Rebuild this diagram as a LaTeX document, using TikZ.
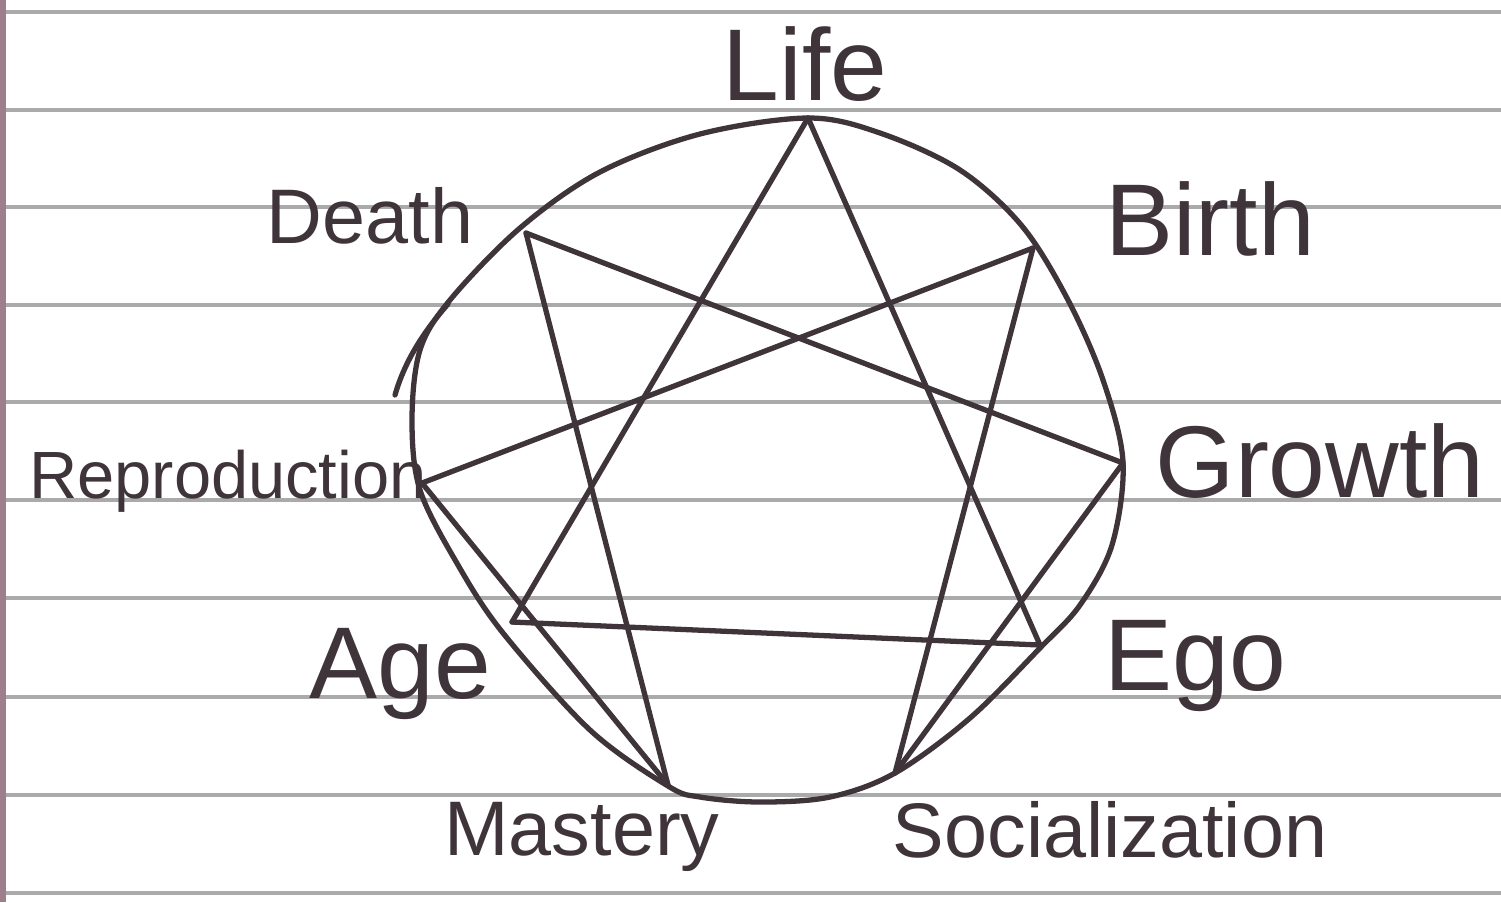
\documentclass[tikz,border=0pt]{standalone}
\usepackage{fontspec}
\setmainfont{Liberation Sans}
\definecolor{inkcolor}{RGB}{62,52,58}
\definecolor{rulecolor}{RGB}{170,170,170}
\definecolor{margincolor}{RGB}{158,126,138}

\begin{document}
\begin{tikzpicture}[x=0.01cm, y=-0.01cm,
    ink/.style={draw=inkcolor, line width=1.5pt, line cap=round, line join=round},
    rule/.style={draw=rulecolor, line width=1.1pt},
    tag/.style={text=inkcolor, anchor=base, inner sep=0pt, font=\fontsize{22}{24}\selectfont},
    bigtag/.style={tag, font=\fontsize{29}{31}\selectfont}]
\useasboundingbox[fill=white] (0,0) rectangle (1501,902);
    \begin{scope}
% ruled paper
\draw[rule] (6,12) -- (1501,12);
\draw[rule] (6,110) -- (1501,110);
\draw[rule] (6,207) -- (1501,207);
\draw[rule] (6,305) -- (1501,305);
\draw[rule] (6,402) -- (1501,402);
\draw[rule] (6,500) -- (1501,500);
\draw[rule] (6,598) -- (1501,598);
\draw[rule] (6,697) -- (1501,697);
\draw[rule] (6,795) -- (1501,795);
\draw[rule] (6,893) -- (1501,893);
\draw[draw=margincolor, line width=1.6pt] (3,0) -- (3,902);
    \end{scope}
    \begin{scope}
% points of the star
\coordinate (life) at (808,118);
\coordinate (birth) at (1033,248);
\coordinate (growth) at (1123,463);
\coordinate (ego) at (1040,645);
\coordinate (social) at (895,773);
\coordinate (mastery) at (668,785);
\coordinate (age) at (512,622);
\coordinate (repro) at (422,483);
\coordinate (death) at (526,233);
% the ring
\draw[ink] plot[smooth cycle, tension=0.55] coordinates {(808,118) (880,133) (960,170) (1022,226) (1068,300) (1103,380) (1123,462) (1112,545) (1080,605) (1040,648) (970,718) (895,773) (830,797) (760,802) (700,797) (668,786) (590,730) (503,633) (458,565) (420,490) (412,420) (420,350) (450,300) (520,228) (600,172) (700,134)};
\draw[ink] (448,304) .. controls (425,330) and (405,360) .. (395,395);
% triangle
\draw[ink] (life) -- (age);
\draw[ink] (life) -- (ego);
\draw[ink] (age) -- (ego);
% hexad
\draw[ink] (death) -- (growth);
\draw[ink] (growth) -- (social);
\draw[ink] (social) -- (birth);
\draw[ink] (birth) -- (repro);
\draw[ink] (repro) -- (mastery);
\draw[ink] (mastery) -- (death);
    \end{scope}
% labels
\node[bigtag] (lifetag) at (805,100) {Life};
\node[bigtag] (birthtag) at (1210,255) {Birth};
\node[bigtag] (growthtag) at (1320,497) {Growth};
\node[bigtag] (egotag) at (1195,690) {Ego};
\node[tag] (socialtag) at (1110,857) {Socialization};
\node[tag] (masterytag) at (582,855) {Mastery};
\node[bigtag] (agetag) at (400,698) {Age};
\node[tag, font=\fontsize{19}{21}\selectfont] (reprotag) at (228,498) {Reproduction};
\node[tag] (deathtag) at (370,243) {Death};
\end{tikzpicture}
\end{document}
